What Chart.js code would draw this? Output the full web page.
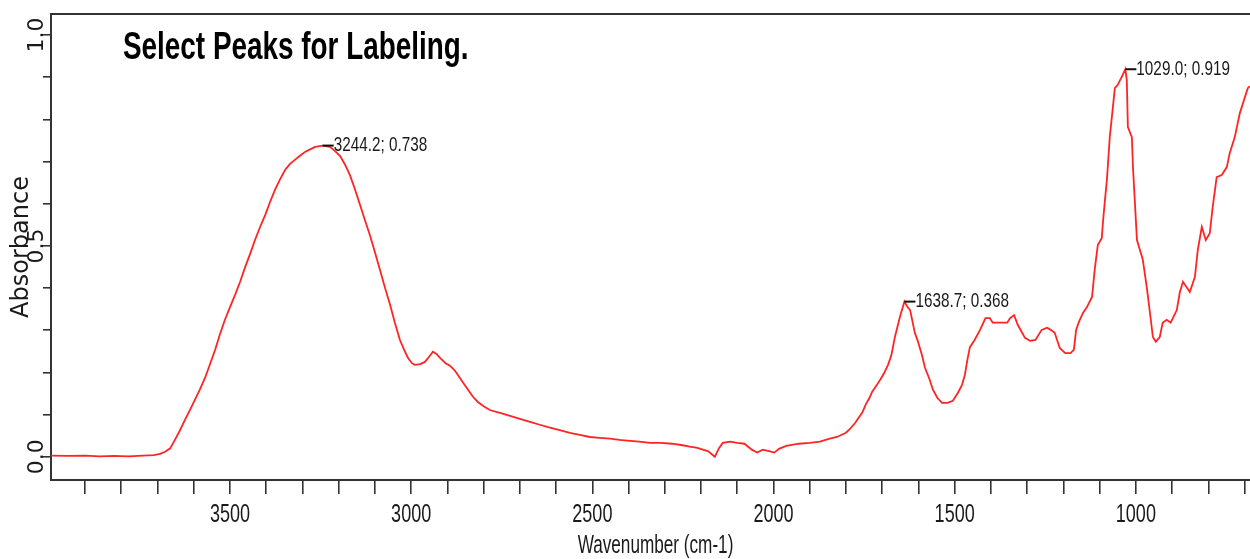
<!DOCTYPE html>
<html lang="en">

<head>
    <meta charset="UTF-8">
    <title>Select Peaks for Labeling</title>
    <script src="https://cdn.jsdelivr.net/npm/chart.js"></script>
    <style>
        body {
            margin: 0;
            background-color: #ffffff;
        }

        .chart-box {
            width: 1250px;
            height: 559px;
            position: relative;
        }
    </style>
</head>

<body>
    <div class="chart-box">
        <canvas id="spectrum"></canvas>
    </div>

    <script>
        // Spectrum (wavenumber in cm-1, absorbance)
        const wavenumbers = [
            3994, 3950, 3900, 3860, 3820, 3780, 3740, 3710, 3693, 3679, 3665, 3652, 3638, 3624, 3610,
            3597, 3583, 3569, 3555, 3541, 3528, 3514, 3500, 3486, 3472, 3459, 3445, 3431, 3417, 3403,
            3390, 3376, 3362, 3348, 3335, 3321, 3307, 3293, 3279, 3265, 3244.2, 3224, 3210, 3196, 3182,
            3169, 3155, 3141, 3128, 3114, 3100, 3086, 3072, 3058, 3045, 3031, 3020, 3009, 2998, 2990,
            2975, 2962, 2950, 2940, 2930, 2921, 2905, 2893, 2880, 2871, 2857, 2843, 2830, 2816, 2800,
            2783, 2755, 2727, 2700, 2672, 2645, 2617, 2590, 2562, 2535, 2507, 2480, 2451, 2425, 2396,
            2370, 2341, 2310, 2280, 2255, 2231, 2210, 2195, 2180, 2162, 2150, 2140, 2120, 2100, 2080,
            2060, 2045, 2030, 2015, 1998, 1985, 1965, 1930, 1900, 1872, 1845, 1825, 1800, 1789, 1775,
            1767, 1755, 1745, 1735, 1728, 1715, 1706, 1695, 1684, 1675, 1665, 1651, 1638.7, 1630, 1623,
            1610, 1602, 1590, 1582, 1570, 1560, 1548, 1535, 1520, 1505, 1491, 1480, 1472, 1465, 1458,
            1445, 1430, 1415, 1403, 1395, 1385, 1370, 1355, 1347, 1336, 1326, 1306, 1292, 1277, 1260,
            1245, 1235, 1224, 1210, 1195, 1180, 1171, 1165, 1158, 1146, 1135, 1121, 1113, 1105, 1094,
            1091, 1086, 1080, 1072, 1058, 1050, 1039, 1029.0, 1025, 1022, 1011, 1008, 997, 989, 981,
            970, 961, 953, 945, 934, 926, 915, 904, 887, 879, 870, 851, 837, 829, 818,
            807, 796, 788, 777, 763, 749, 741, 727, 713, 699, 691, 685
        ];
        const absorbance = [
            0.003, 0.002, 0.003, 0.001, 0.002, 0.001, 0.003, 0.004, 0.007, 0.012, 0.020, 0.040, 0.063, 0.088, 0.112,
            0.135, 0.160, 0.187, 0.220, 0.254, 0.290, 0.325, 0.355, 0.384, 0.415, 0.448, 0.480, 0.514, 0.545, 0.573,
            0.603, 0.633, 0.658, 0.680, 0.694, 0.704, 0.714, 0.723, 0.729, 0.735, 0.738, 0.735, 0.725, 0.713, 0.692,
            0.668, 0.634, 0.597, 0.562, 0.526, 0.485, 0.443, 0.400, 0.360, 0.318, 0.277, 0.255, 0.235, 0.222, 0.218,
            0.220, 0.225, 0.238, 0.249, 0.244, 0.235, 0.222, 0.216, 0.205, 0.194, 0.176, 0.159, 0.143, 0.130, 0.120,
            0.111, 0.104, 0.097, 0.090, 0.083, 0.076, 0.069, 0.063, 0.057, 0.052, 0.047, 0.045, 0.043, 0.040, 0.038,
            0.036, 0.033, 0.033, 0.031, 0.028, 0.024, 0.021, 0.017, 0.013, 0.000, 0.021, 0.033, 0.036, 0.033, 0.031,
            0.017, 0.010, 0.017, 0.014, 0.010, 0.019, 0.026, 0.031, 0.033, 0.036, 0.043, 0.047, 0.057, 0.066, 0.080,
            0.090, 0.105, 0.125, 0.140, 0.154, 0.170, 0.182, 0.198, 0.218, 0.240, 0.284, 0.332, 0.368, 0.355, 0.348,
            0.294, 0.275, 0.240, 0.211, 0.185, 0.159, 0.140, 0.128, 0.128, 0.133, 0.152, 0.170, 0.194, 0.230, 0.260,
            0.277, 0.301, 0.329, 0.329, 0.318, 0.318, 0.318, 0.318, 0.329, 0.336, 0.313, 0.282, 0.275, 0.277, 0.301,
            0.306, 0.301, 0.294, 0.258, 0.246, 0.246, 0.254, 0.300, 0.318, 0.341, 0.355, 0.379, 0.448, 0.502, 0.519,
            0.555, 0.602, 0.656, 0.758, 0.874, 0.882, 0.901, 0.919, 0.893, 0.782, 0.758, 0.687, 0.514, 0.491, 0.468,
            0.403, 0.341, 0.284, 0.273, 0.284, 0.318, 0.325, 0.318, 0.348, 0.389, 0.415, 0.391, 0.427, 0.491, 0.545,
            0.514, 0.530, 0.592, 0.663, 0.668, 0.687, 0.720, 0.758, 0.815, 0.853, 0.874, 0.879
        ];

        // Labelled peaks
        const peakWavenumbers = [3244.2, 1638.7, 1029.0];
        const peakValues = [0.738, 0.368, 0.919];

        // Axis ticks
        const xMinorTicks = [];
        for (let w = 3900; w >= 700; w -= 100) xMinorTicks.push(w);
        const xTickLabels = [3500, 3000, 2500, 2000, 1500, 1000];
        const yMinorTicks = [0, 0.1, 0.2, 0.3, 0.4, 0.5, 0.6, 0.7, 0.8, 0.9, 1.0];
        const yTickLabels = [0, 0.5, 1.0];

        const chartTitle = "Select Peaks for Labeling.";
        const xAxisTitle = "Wavenumber (cm-1)";
        const sans = "'Liberation Sans', Arial, sans-serif";
        const axisColor = "#333333";

        // the source uses a narrow, tall face; squeeze Liberation Sans to match
        function squeezedText(ctx, text, x, y, sx, sy) {
            ctx.save();
            ctx.translate(x, y);
            ctx.scale(sx, sy);
            ctx.fillText(text, 0, 0);
            ctx.restore();
        }

        // draws the frame top, the heading, x labels and the peak markers
        const annotations = {
            id: "annotations",
            afterDraw(chart) {
                const { ctx, chartArea, scales } = chart;
                ctx.save();

                ctx.strokeStyle = axisColor;
                ctx.lineWidth = 2;
                ctx.beginPath();
                ctx.moveTo(chartArea.left, chartArea.top);
                ctx.lineTo(chartArea.right + 5, chartArea.top);
                ctx.stroke();

                ctx.fillStyle = "#000000";
                ctx.textBaseline = "alphabetic";
                ctx.textAlign = "left";
                ctx.font = "bold 34px " + sans;
                squeezedText(ctx, chartTitle, 123, 59, 0.82, 1.14);

                // x tick labels and axis title
                ctx.fillStyle = "#1a1a1a";
                ctx.textAlign = "center";
                ctx.font = "22px " + sans;
                xTickLabels.forEach(v => {
                    squeezedText(ctx, String(v), scales.x.getPixelForValue(v), 522, 0.82, 1.2);
                });
                squeezedText(ctx, xAxisTitle, (chartArea.left + chartArea.right) / 2 + 5, 553, 0.78, 1.2);

                // peak markers
                ctx.textAlign = "left";
                ctx.textBaseline = "middle";
                ctx.font = "18px " + sans;
                peakWavenumbers.forEach((w, i) => {
                    const px = scales.x.getPixelForValue(w);
                    const py = scales.y.getPixelForValue(peakValues[i]);
                    ctx.strokeStyle = "#111111";
                    ctx.lineWidth = 2;
                    ctx.beginPath();
                    ctx.moveTo(px, py);
                    ctx.lineTo(px + 11, py);
                    ctx.stroke();
                    squeezedText(ctx, w.toFixed(1) + "; " + peakValues[i].toFixed(3), px + 11, py, 0.85, 1.14);
                });

                ctx.restore();
            }
        };

        const ctx = document.getElementById("spectrum").getContext("2d");
        new Chart(ctx, {
            type: "line",
            data: {
                datasets: [{
                    data: wavenumbers.map((w, i) => ({ x: w, y: absorbance[i] })),
                    borderColor: "#ff2424",
                    borderWidth: 1.8,
                    pointRadius: 0,
                    tension: 0,
                    fill: false,
                }],
            },
            options: {
                responsive: true,
                maintainAspectRatio: false,
                animation: false,
                layout: {
                    padding: { top: 14, right: 0, bottom: 0, left: 0 },
                },
                plugins: {
                    legend: { display: false },
                    tooltip: { enabled: false },
                },
                scales: {
                    x: {
                        type: "linear",
                        reverse: true,
                        min: 685,
                        max: 3994,
                        afterFit: (scale) => { scale.height = 79; },
                        afterBuildTicks: (scale) => {
                            scale.ticks = xMinorTicks.map(v => ({ value: v }));
                        },
                        grid: {
                            drawOnChartArea: false,
                            drawTicks: true,
                            tickLength: 14,
                            tickColor: axisColor,
                            lineWidth: 1.6,
                        },
                        border: { display: true, color: axisColor, width: 2 },
                        ticks: {
                            autoSkip: false,
                            maxRotation: 0,
                            callback: () => "",
                        },
                    },
                    y: {
                        min: -0.055,
                        max: 1.05,
                        afterFit: (scale) => { scale.width = 51; },
                        afterBuildTicks: (scale) => {
                            scale.ticks = yMinorTicks.map(v => ({ value: v }));
                        },
                        grid: {
                            drawOnChartArea: false,
                            drawTicks: true,
                            tickLength: 8,
                            tickColor: axisColor,
                            lineWidth: 1.6,
                        },
                        border: { display: true, color: axisColor, width: 2 },
                        ticks: {
                            autoSkip: false,
                            minRotation: 90,
                            maxRotation: 90,
                            crossAlign: "center",
                            padding: -12,
                            color: "#1a1a1a",
                            font: { family: "'DejaVu Sans', sans-serif", size: 22 },
                            callback: (v) => yTickLabels.some(t => Math.abs(t - v) < 1e-6) ? v.toFixed(1) : "",
                        },
                        title: {
                            display: true,
                            text: "Absorbance",
                            color: "#1a1a1a",
                            font: { family: "'DejaVu Sans', sans-serif", size: 24 },
                            padding: { top: 7, bottom: 0 },
                        },
                    },
                },
            },
            plugins: [annotations],
        });
    </script>
</body>

</html>
